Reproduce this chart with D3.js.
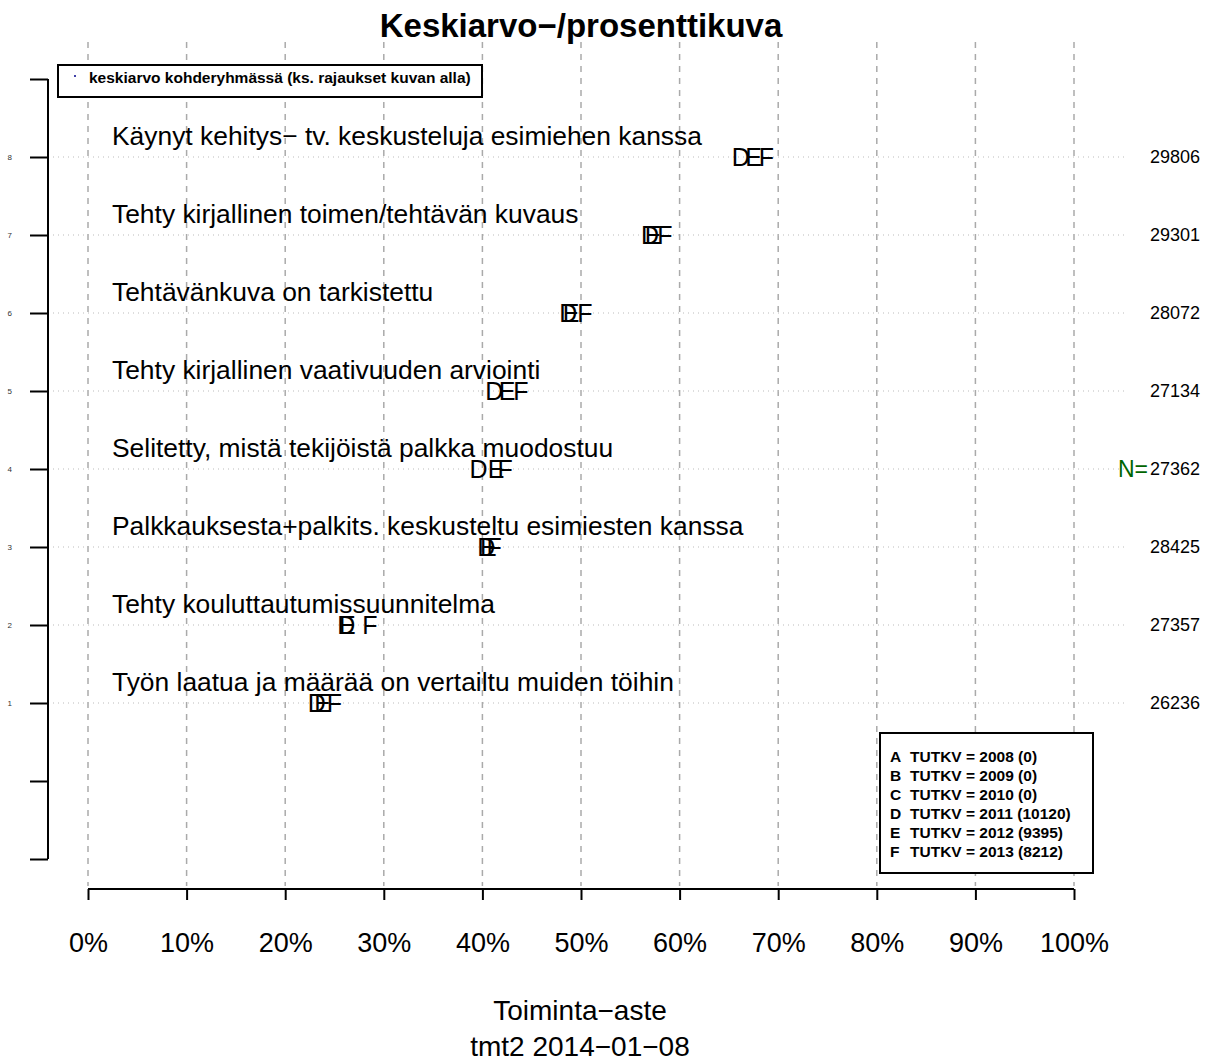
<!DOCTYPE html>
<html>
<head>
<meta charset="utf-8">
<script src="https://cdn.jsdelivr.net/npm/d3@7"></script>
<style>
  body { margin: 0; background: #fff; }
  text { font-family: "Liberation Sans", Arial, sans-serif; }
</style>
</head>
<body>
<div id="chart"></div>
<script>
// rows 1..8 (bottom to top)
const items = [
  'Työn laatua ja määrää on vertailtu muiden töihin',
  'Tehty kouluttautumissuunnitelma',
  'Palkkauksesta+palkits. keskusteltu esimiesten kanssa',
  'Selitetty, mistä tekijöistä palkka muodostuu',
  'Tehty kirjallinen vaativuuden arviointi',
  'Tehtävänkuva on tarkistettu',
  'Tehty kirjallinen toimen/tehtävän kuvaus',
  'Käynyt kehitys− tv. keskusteluja esimiehen kanssa'
];
const nValues = [26236, 27357, 28425, 27362, 27134, 28072, 29301, 29806];
const seriesD = [23.2, 26.2, 40.4, 39.6, 41.2, 48.7, 57.0, 66.2];
const seriesE = [23.8, 26.3, 40.6, 41.4, 42.5, 49.0, 57.3, 67.5];
const seriesF = [25.0, 28.6, 41.2, 42.3, 43.9, 50.4, 58.5, 68.8];
const legendLetters = ['A', 'B', 'C', 'D', 'E', 'F'];
const legendYears = [2008, 2009, 2010, 2011, 2012, 2013];
const legendCounts = [0, 0, 0, 10120, 9395, 8212];
const xTicks = [0, 10, 20, 30, 40, 50, 60, 70, 80, 90, 100];

const w = 1208, h = 1062;
const svg = d3.select('#chart').append('svg')
  .attr('width', w).attr('height', h);

const x = d3.scaleLinear().domain([0, 100]).range([88, 1074]);
const y = d3.scaleLinear().domain([1, 8]).range([703, 157]);

// title
svg.append('text')
  .attr('x', 581).attr('y', 37)
  .attr('text-anchor', 'middle')
  .attr('font-size', '33px').attr('font-weight', 'bold')
  .text('Keskiarvo−/prosenttikuva');

// vertical dashed grid
svg.selectAll('line.vgrid')
  .data(xTicks)
  .enter().append('line')
  .attr('class', 'vgrid')
  .attr('x1', d => x(d)).attr('x2', d => x(d))
  .attr('y1', 42).attr('y2', 886)
  .attr('stroke', '#aaa').attr('stroke-width', 1.5)
  .attr('stroke-dasharray', '6,6');

// horizontal dotted lines
const rows = d3.range(1, 9);
svg.selectAll('line.hgrid')
  .data(rows)
  .enter().append('line')
  .attr('class', 'hgrid')
  .attr('x1', 48).attr('x2', 1128)
  .attr('y1', d => y(d)).attr('y2', d => y(d))
  .attr('stroke', '#bbb').attr('stroke-width', 1)
  .attr('stroke-dasharray', '1,4');

// left axis
const yAxis = d3.axisLeft(y)
  .tickValues(d3.range(-1, 10))
  .tickSize(18)
  .tickFormat(d => (d >= 1 && d <= 8) ? d : '');
const gy = svg.append('g')
  .attr('transform', 'translate(48,0)')
  .call(yAxis);
gy.select('.domain').remove();
gy.append('line')
  .attr('x1', 0).attr('x2', 0)
  .attr('y1', y(9)).attr('y2', y(-1))
  .attr('stroke', '#000').attr('stroke-width', 2);
gy.selectAll('.tick line').attr('stroke', '#000').attr('stroke-width', 2);
gy.selectAll('.tick text')
  .attr('x', -36).attr('font-size', '8px').attr('fill', '#333')
  .attr('font-family', '"Liberation Sans", Arial, sans-serif');

// bottom axis
const xAxis = d3.axisBottom(x)
  .tickValues(xTicks)
  .tickSize(11)
  .tickFormat(d => d + '%');
const gx = svg.append('g')
  .attr('transform', 'translate(0,889)')
  .call(xAxis);
gx.select('.domain').remove();
gx.append('line')
  .attr('x1', x(0)).attr('x2', x(100))
  .attr('stroke', '#000').attr('stroke-width', 2);
gx.selectAll('.tick line').attr('stroke', '#000').attr('stroke-width', 2);
gx.selectAll('.tick text')
  .attr('y', 44).attr('font-size', '27px')
  .attr('font-family', '"Liberation Sans", Arial, sans-serif');

// row labels
svg.selectAll('text.item')
  .data(items)
  .enter().append('text')
  .attr('class', 'item')
  .attr('x', 112)
  .attr('y', (d, i) => y(i + 1) - 12)
  .attr('font-size', '26.4px')
  .text(d => d);

// letter markers
const series = [['D', seriesD], ['E', seriesE], ['F', seriesF]];
series.forEach(([letter, vals]) => {
  svg.selectAll('text.m' + letter)
    .data(vals)
    .enter().append('text')
    .attr('class', 'm' + letter)
    .attr('x', d => x(d))
    .attr('y', (d, i) => y(i + 1) + 9)
    .attr('text-anchor', 'middle')
    .attr('font-size', '25px')
    .text(letter);
});

// N values
svg.selectAll('text.n')
  .data(nValues)
  .enter().append('text')
  .attr('class', 'n')
  .attr('x', 1150)
  .attr('y', (d, i) => y(i + 1) + 6)
  .attr('font-size', '18px')
  .text(d => d);
svg.append('text')
  .attr('x', 1148).attr('y', y(4) + 8)
  .attr('text-anchor', 'end')
  .attr('font-size', '23px').attr('fill', '#006400')
  .text('N=');

// top-left legend
svg.append('rect')
  .attr('x', 58).attr('y', 65).attr('width', 424).attr('height', 32)
  .attr('fill', '#fff').attr('stroke', '#000').attr('stroke-width', 2);
svg.append('circle')
  .attr('cx', 75).attr('cy', 76).attr('r', 1).attr('fill', '#00008b');
svg.append('text')
  .attr('x', 89).attr('y', 83)
  .attr('font-size', '15.5px').attr('font-weight', 'bold')
  .text('keskiarvo kohderyhmässä (ks. rajaukset kuvan alla)');

// bottom-right legend
svg.append('rect')
  .attr('x', 880).attr('y', 733).attr('width', 213).attr('height', 140)
  .attr('fill', '#fff').attr('stroke', '#000').attr('stroke-width', 2);
const lg = svg.selectAll('g.leg')
  .data(legendLetters)
  .enter().append('g')
  .attr('class', 'leg')
  .attr('transform', (d, i) => 'translate(0,' + (762 + i * 19) + ')');
lg.append('text')
  .attr('x', 890)
  .attr('font-size', '15.5px').attr('font-weight', 'bold')
  .text(d => d);
lg.append('text')
  .attr('x', 910)
  .attr('font-size', '15.5px').attr('font-weight', 'bold')
  .text((d, i) => 'TUTKV = ' + legendYears[i] + ' (' + legendCounts[i] + ')');

// axis titles
svg.append('text')
  .attr('x', 580).attr('y', 1020)
  .attr('text-anchor', 'middle').attr('font-size', '28px')
  .text('Toiminta−aste');
svg.append('text')
  .attr('x', 580).attr('y', 1056)
  .attr('text-anchor', 'middle').attr('font-size', '28px')
  .text('tmt2 2014−01−08');
</script>
</body>
</html>
